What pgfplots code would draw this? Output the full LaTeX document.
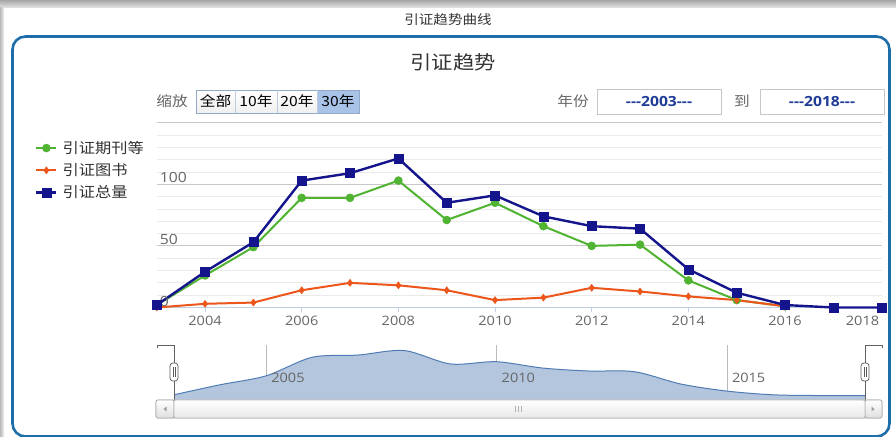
\documentclass[border=0pt]{standalone}
\usepackage{pgfplots}
\usepackage{pgfplotstable}
\pgfplotsset{compat=1.18}
\usepackage{fontspec}
\setmainfont{Open Sans}[FakeStretch=1.12]
\newfontfamily\cjk{Noto Sans CJK SC}[FakeStretch=1.12]
\definecolor{cgreen}{HTML}{50B432}
\definecolor{corange}{HTML}{ED561B}
\definecolor{cnavy}{HTML}{14148C}
\definecolor{boxblue}{HTML}{1C6DAA}
\definecolor{axisc}{HTML}{C0D0E0}
\definecolor{gridmaj}{HTML}{C8C8C8}
\definecolor{gridmin}{HTML}{EAEAEA}
\definecolor{txtgray}{HTML}{666666}
\definecolor{txtdark}{HTML}{333333}
\definecolor{navfill}{HTML}{B4C6DE}
\definecolor{navline}{HTML}{4F7CB5}
\definecolor{btnsel}{HTML}{A9C3E8}
\definecolor{btnborder}{HTML}{93A9C8}
\definecolor{inputtxt}{HTML}{1F3C96}
\pgfplotstableread{
year qk ts zl
2003 2 0 2
2004 26 3 29
2005 49 4 53
2006 89 14 103
2007 89 20 109
2008 103 18 121
2009 71 14 85
2010 85 6 91
2011 66 8 74
2012 50 16 66
2013 51 13 64
2014 22 9 31
2015 6 6 12
2016 1 1 2
2017 nan nan 0
2018 nan nan 0
}\data
\begin{document}
\begin{tikzpicture}[x=1pt,y=1pt]
\useasboundingbox (0,0) rectangle (896,436);
\fill[white] (0,0) rectangle (896,436);
% header shadow
\shade[top color=gray!70, bottom color=gray!20] (0,428) rectangle (896,436);
\shade[left color=gray!55, right color=gray!10] (0,0) rectangle (4,428);
\node[text=txtdark, font=\cjk\fontsize{13}{13}\selectfont] at (448,416) {引证趋势曲线};
% box
\draw[boxblue, line width=2.6pt, rounded corners=13pt] (12.5,-0.5) rectangle (889.5,399.5);
\node[text=txtdark, font=\cjk\fontsize{19}{19}\selectfont] at (453,374) {引证趋势};
% range selector
\node[text=txtgray, font=\cjk\fontsize{14}{14}\selectfont] at (172,335) {缩放};
\shade[top color=white, bottom color=gray!12] (196,323) rectangle (317,346);
\fill[btnsel] (317,323) rectangle (359,346);
\draw[btnborder, line width=0.8pt] (196,323) rectangle (359,346);
\draw[btnborder!60, line width=0.6pt] (235,323) -- (235,346) (277,323) -- (277,346) (317,323) -- (317,346);
\begin{scope}[every node/.style={text=black, font=\cjk\fontsize{14}{14}\selectfont, inner sep=0pt}]
\node at (215.5,334.5) {全部};
\node at (256,334.5) {10年};
\node at (297,334.5) {20年};
\node at (338,334.5) {30年};
\end{scope}
\node[text=txtgray, font=\cjk\fontsize{14}{14}\selectfont] at (573,335) {年份};
\draw[gray!45, line width=0.8pt] (597,322) rectangle (721,347);
\node[text=inputtxt, font=\bfseries\fontsize{14}{14}\selectfont] at (659,335) {-{}-{}-2003-{}-{}-};
\node[text=txtgray, font=\cjk\fontsize{14}{14}\selectfont] at (742,335) {到};
\draw[gray!45, line width=0.8pt] (760,322) rectangle (884,347);
\node[text=inputtxt, font=\bfseries\fontsize{14}{14}\selectfont] at (822,335) {-{}-{}-2018-{}-{}-};
% main chart
\begin{axis}[
  at={(156.7pt,128.5pt)}, anchor=south west,
  width=725pt, height=184.8pt, scale only axis,
  xmin=2003, xmax=2018, ymin=0, ymax=150,
  clip=false,
  axis x line*=bottom, axis y line*=left,
  y axis line style={draw=none},
  x axis line style={axisc, line width=1pt},
  ytick={0,50,100,150}, yticklabels={},
  minor ytick={10,20,30,40,60,70,80,90,110,120,130,140},
  ytick style={draw=none}, minor tick style={draw=none},
  ymajorgrids, yminorgrids,
  major grid style={gridmaj, line width=1pt},
  minor grid style={gridmin, line width=0.8pt},
  xtick={2004,2006,2008,2010,2012,2014,2016},
  xticklabels={2004,2006,2008,2010,2012,2014,2016},
  extra x ticks={2018}, extra x tick labels={2018},
  extra x tick style={xticklabel style={anchor=north east, xshift=1pt}},
  xtick style={axisc, line width=1pt},
  major tick length=5pt, tick align=outside,
  xticklabel style={font=\fontsize{13}{13}\selectfont, text=txtgray},
  legend style={at={(-0.1679,0.9064)}, anchor=north west, draw=none, fill=none,
    inner sep=0pt, font=\cjk\fontsize{14.5}{17}\selectfont, text=txtdark,
    row sep=6.5pt, nodes={inner sep=1pt},
    /tikz/every odd column/.append style={column sep=4pt}},
  legend cell align=left,
  legend image code/.code={\draw[mark repeat=2,mark phase=2] plot coordinates {(0pt,0pt) (10pt,0pt) (20pt,0pt)};},
]
\addplot[cgreen, line width=2pt, mark=*, mark size=4pt, mark options={solid, fill=cgreen, line width=0.5pt}] table[x=year,y=qk]{\data};
\addlegendentry{引证期刊等}
\addplot[corange, line width=2pt, mark=diamond*, mark size=3.5pt, mark options={solid, fill=corange, line width=0.5pt}] table[x=year,y=ts]{\data};
\addlegendentry{引证图书}
\addplot[cnavy, line width=2.4pt, mark=square*, mark size=4.5pt, mark options={solid, fill=cnavy, line width=0.5pt}] table[x=year,y=zl]{\data};
\addlegendentry{引证总量}
\begin{scope}[every node/.style={anchor=south west, text=txtgray, font=\fontsize{14}{14}\selectfont, inner sep=1pt, xshift=2pt}]
\node at (axis cs:2003,100) {100};
\node at (axis cs:2003,50) {50};
\node at (axis cs:2003,0) {0};
\end{scope}
\end{axis}
% navigator
\begin{axis}[
  at={(174pt,36pt)}, anchor=south west,
  width=691pt, height=55pt, scale only axis,
  xmin=2003, xmax=2018, ymin=-12, ymax=136,
  axis line style={draw=none}, tick style={draw=none},
  xtick={2005,2010,2015}, xticklabels={}, ytick=\empty,
  xmajorgrids, grid style={gray!55, line width=0.6pt},
]
\addplot[draw=none, fill=navfill, smooth] table[x=year,y=zl]{\data} |- (axis cs:2003,-12) -- cycle;
\addplot[navline, line width=1pt, smooth] table[x=year,y=zl]{\data};
\begin{scope}[every node/.style={anchor=west, text=txtgray, font=\fontsize{13}{13}\selectfont, inner sep=0pt, xshift=5pt}]
\node at (axis cs:2005,47) {2005};
\node at (axis cs:2010,47) {2010};
\node at (axis cs:2015,47) {2015};
\end{scope}
\end{axis}
% navigator handles
\draw[gray!75!black, line width=0.8pt] (157,88) -- (157,91) -- (174,91) -- (174,36);
\draw[gray!75!black, line width=0.8pt] (882,88) -- (882,91) -- (865,91) -- (865,36);
\foreach \hx in {174,865}{
  \draw[fill=white, draw=gray!70!black, line width=0.7pt, rounded corners=3pt] (\hx-4,55) rectangle (\hx+4,73);
  \draw[gray!70!black, line width=0.6pt] (\hx-1.2,59) -- (\hx-1.2,69) (\hx+1.2,59) -- (\hx+1.2,69);
}
% scrollbar
\shade[top color=white, bottom color=gray!22, draw=gray!65, rounded corners=2pt, line width=0.7pt] (156,18) rectangle (882,36);
\shade[top color=white, bottom color=gray!25, draw=gray!65, rounded corners=2pt, line width=0.7pt] (156,18) rectangle (174,36);
\shade[top color=white, bottom color=gray!25, draw=gray!65, rounded corners=2pt, line width=0.7pt] (865,18) rectangle (882,36);
\shade[top color=white, bottom color=gray!18, draw=gray!55, rounded corners=2pt, line width=0.7pt] (174,18) rectangle (865,36);
\fill[gray!75] (163.5,27) -- (166.5,29.5) -- (166.5,24.5) -- cycle;
\fill[gray!75] (874.5,27) -- (871.5,29.5) -- (871.5,24.5) -- cycle;
\draw[gray!60, line width=0.6pt] (515,24) -- (515,30) (518,24) -- (518,30) (521,24) -- (521,30);
\end{tikzpicture}
\end{document}
